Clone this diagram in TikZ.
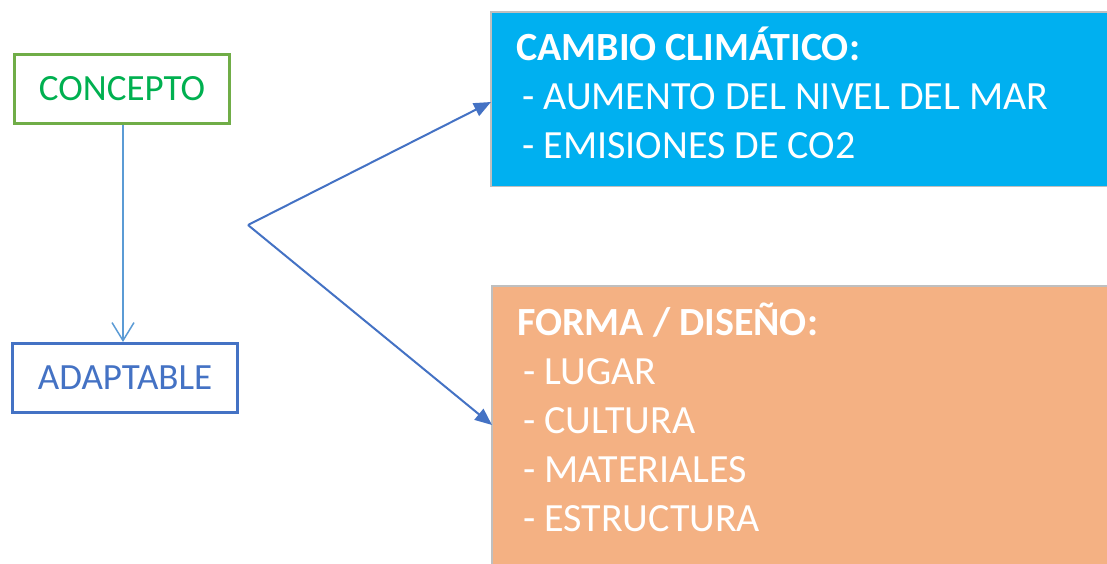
\documentclass[tikz,border=0pt]{standalone}
\usepackage{fontspec}
\setmainfont{Carlito}
\usetikzlibrary{arrows.meta}

\definecolor{LeafGreen}{HTML}{70AD47}
\definecolor{TextGreen}{HTML}{00B050}
\definecolor{SteelBlue}{HTML}{4472C4}
\definecolor{PaleBlue}{HTML}{5B9BD5}
\definecolor{SkyBlue}{HTML}{00B0F0}
\definecolor{Peach}{HTML}{F4B183}
\definecolor{EdgeGray}{HTML}{BFBFBF}

\begin{document}
\begin{tikzpicture}[x=1pt,y=-1pt,
  tagbox/.style={draw,line width=3pt,fill=white,minimum height=69pt,
    font=\fontsize{37pt}{44pt}\selectfont},
  listbox/.style={anchor=north west,align=flush left,
    inner xsep=25pt,inner ysep=0pt,text=white,text width=650pt,
    font=\fontsize{40pt}{49pt}\selectfont},
  edge/.style={EdgeGray,line width=1.2pt},
  branch/.style={SteelBlue,line width=2pt,-{Triangle[length=17pt,width=14pt]}}]
\useasboundingbox (0,0) rectangle (1107,564);

\node[tagbox,draw=LeafGreen,text=TextGreen,minimum width=215pt] (concepto) at (122,89) {CONCEPTO};
\node[tagbox,draw=SteelBlue,text=SteelBlue,minimum width=225pt] (adaptable) at (125,378) {ADAPTABLE};

\node[listbox,fill=SkyBlue,text height=48pt,text depth=126pt] (cambio) at (491,12)
  {\textbf{CAMBIO CLIMÁTICO:}\\
   \hspace*{.15em}- AUMENTO DEL NIVEL DEL MAR\\
   \hspace*{.15em}- EMISIONES DE CO2};
\node[listbox,fill=Peach,text height=49pt,text depth=300pt] (forma) at (492,286)
  {\textbf{FORMA / DISEÑO:}\\
   \hspace*{.15em}- LUGAR\\
   \hspace*{.15em}- CULTURA\\
   \hspace*{.15em}- MATERIALES\\
   \hspace*{.15em}- ESTRUCTURA};

% thin gray rims, the rest runs off the page
\draw[edge] (cambio.north east) -- (cambio.north west) -- (cambio.south west) -- (cambio.south east);
\draw[edge] (forma.south west) -- (forma.north west) -- (forma.north east);

\draw[PaleBlue,line width=1.5pt,-{Straight Barb[length=18pt,width=22pt]}]
  (concepto.south -| 123,0) -- (adaptable.north -| 123,0);

\coordinate (fork) at (248,225);
\draw[branch] (fork) -- ([yshift=-90pt]cambio.north west);
\draw[branch] (fork) -- ([yshift=-139pt]forma.north west);

\end{tikzpicture}
\end{document}
